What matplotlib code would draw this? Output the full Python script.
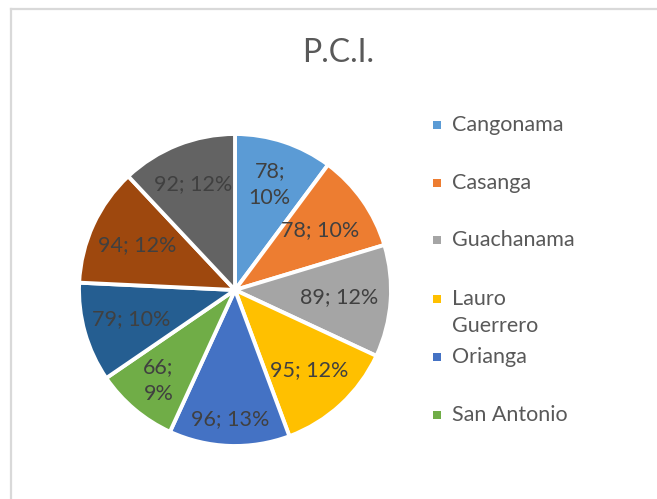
import matplotlib
matplotlib.use("Agg")
import matplotlib.pyplot as plt
from matplotlib.patches import Rectangle
from matplotlib.lines import Line2D
import numpy as np

plt.rcParams['font.family'] = ['Lato', 'DejaVu Sans']

# P.C.I. per parroquia
values = [78, 78, 89, 95, 96, 66, 79, 94, 92]
legend_names = ["Cangonama", "Casanga", "Guachanama", "Lauro\nGuerrero", "Orianga", "San Antonio"]
colors = ["#5B9BD5", "#ED7D31", "#A5A5A5", "#FFC000", "#4472C4",
          "#70AD47", "#255E91", "#9E480E", "#636363"]

# radial position of each data label (fraction of the radius)
label_radius = [0.71, 0.67, 0.67, 0.70, 0.83, 0.76, 0.69, 0.69, 0.73]
# labels that wrap onto two lines
wrapped = {0, 5}

W, H = 657, 499
fig = plt.figure(figsize=(W / 100, H / 100), dpi=100)
fig.patch.set_facecolor("white")

# chart-area border (left and top edges visible)
fig.add_artist(Line2D([10.5 / W, 10.5 / W], [0, 1 - 8.5 / H], transform=fig.transFigure,
                      color="#D9D9D9", lw=1.6))
fig.add_artist(Line2D([10.5 / W, 1], [1 - 8.5 / H, 1 - 8.5 / H], transform=fig.transFigure,
                      color="#D9D9D9", lw=1.6))

# pie axes: centre (235, 290), radius ~156 px
cx, cy, r = 235, 290, 156
ax = fig.add_axes([(cx - r) / W, 1 - (cy + r) / H, 2 * r / W, 2 * r / H])
total = sum(values)
wedges, _ = ax.pie(values, colors=colors, startangle=90, counterclock=False,
                   radius=1.0, wedgeprops=dict(edgecolor="white", linewidth=2.8))
ax.set_xlim(-1, 1)
ax.set_ylim(-1, 1)
ax.set_aspect("equal")
ax.axis("off")

for i, (w, v) in enumerate(zip(wedges, values)):
    ang = np.deg2rad((w.theta1 + w.theta2) / 2)
    rr = label_radius[i]
    pct = round(100 * v / total)
    sep = ";\n" if i in wrapped else "; "
    ax.text(rr * np.cos(ang), rr * np.sin(ang), f"{v}{sep}{pct}%",
            ha="center", va="center", fontsize=15.5, color="#404040",
            linespacing=1.45)

# title
fig.text(338 / W, 1 - 53 / H, "P.C.I.", ha="center", va="center",
         fontsize=23, color="#595959")

# legend
legend_y = [125, 183, 240, 299, 357, 415]
for name, col, y in zip(legend_names, colors, legend_y):
    fig.add_artist(Rectangle(((437 - 4) / W, 1 - (y + 4) / H), 8 / W, 8 / H,
                             transform=fig.transFigure, facecolor=col, edgecolor="none"))
    fig.text(452 / W, 1 - (y - 10) / H, name, ha="left", va="top",
             fontsize=15.5, color="#595959", linespacing=1.45)

fig.savefig("out.png", dpi=100, facecolor="white")
